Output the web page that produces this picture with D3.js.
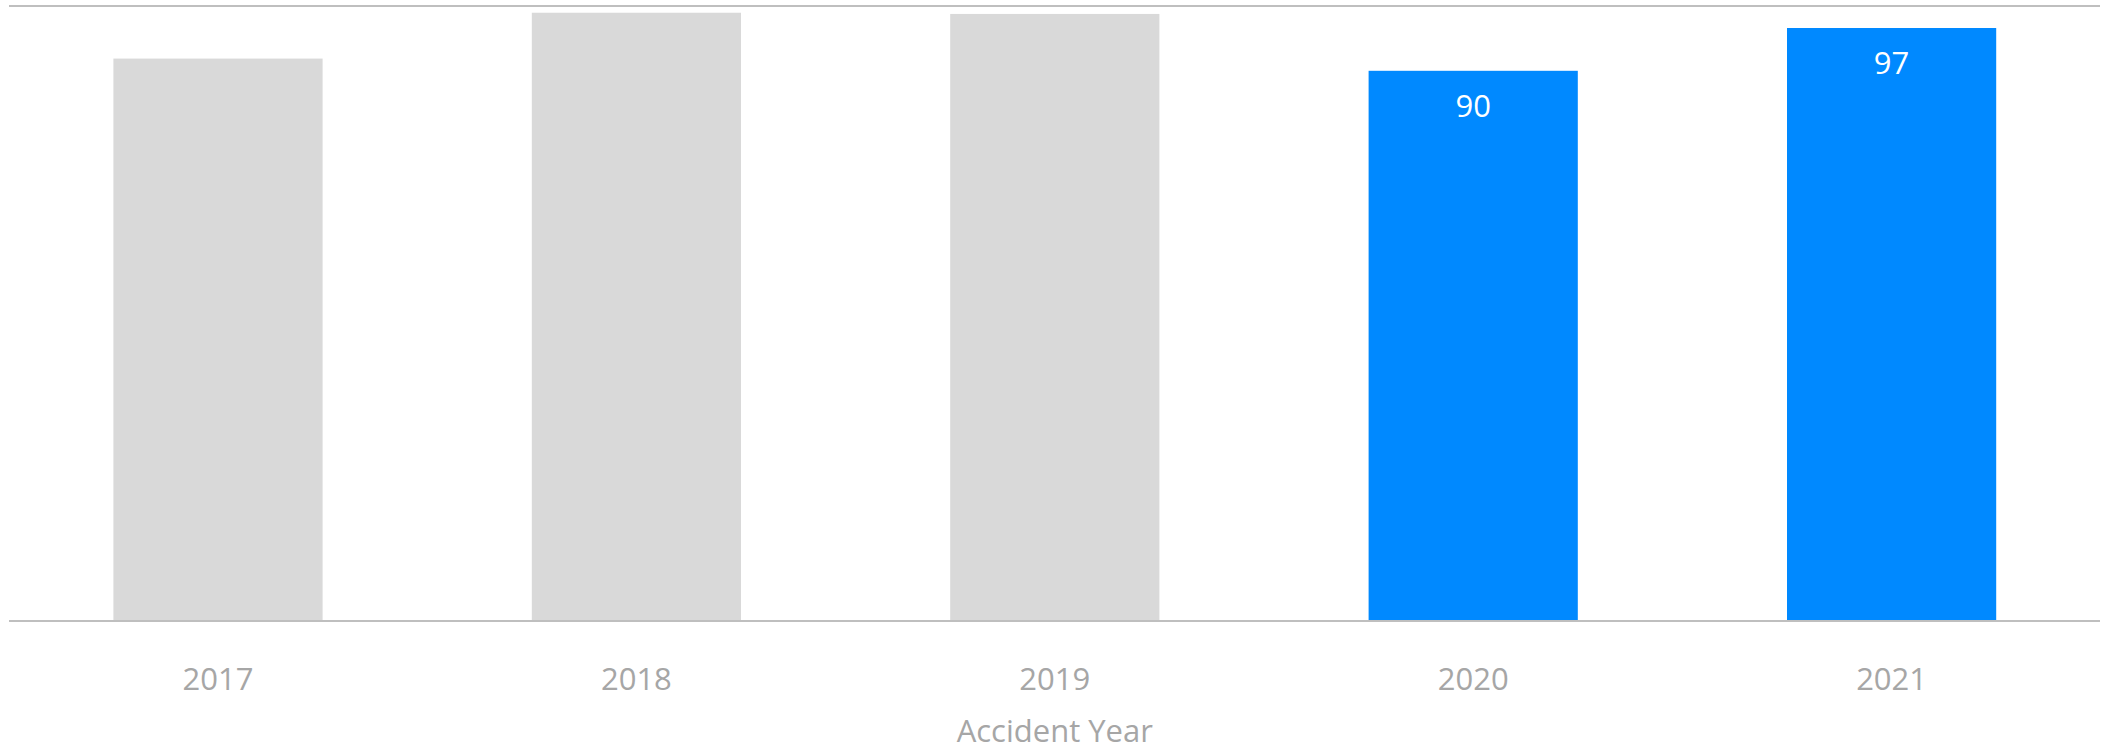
<!DOCTYPE html>
<html>
<head>
<meta charset="utf-8">
<script src="https://cdn.jsdelivr.net/npm/d3@7"></script>
<style>
  html, body { margin: 0; padding: 0; background: #ffffff; }
  svg { display: block; }
</style>
</head>
<body>
<svg id="chart" width="2102" height="751"></svg>
<script>
// ---- data ----
const categories = ["2017", "2018", "2019", "2020", "2021"];
const values = [92.0, 99.5, 99.3, 90, 97];
const highlighted = [false, false, false, true, true];
const showLabel = [false, false, false, true, true];
const yMax = 100.6;
const xTitle = "Accident Year";

// ---- layout ----
const W = 2102, H = 751;
const left = 8.8, right = 2100.8;
const baseY = 621, topY = 6;
const font = "'Open Sans', 'Noto Sans', sans-serif";

const svg = d3.select("#chart");

const x = d3.scaleBand()
  .domain(categories)
  .range([left, right])
  .paddingInner(0.5)
  .paddingOuter(0.25);

const y = d3.scaleLinear()
  .domain([0, yMax])
  .range([baseY, topY]);

// top gridline
svg.append("line")
  .attr("x1", 9).attr("x2", 2100)
  .attr("y1", y(yMax)).attr("y2", y(yMax))
  .attr("stroke", "#bfbfbf").attr("stroke-width", 2);

const data = categories.map((c, i) => ({ c, v: values[i], hi: highlighted[i], lab: showLabel[i] }));

// bars
svg.append("g").selectAll("rect")
  .data(data)
  .join("rect")
  .attr("x", d => x(d.c))
  .attr("width", x.bandwidth())
  .attr("y", d => y(d.v))
  .attr("height", d => y(0) - y(d.v))
  .attr("fill", d => d.hi ? "#0089ff" : "#d9d9d9");

// value labels
svg.append("g").selectAll("text")
  .data(data.filter(d => d.lab))
  .join("text")
  .attr("x", d => x(d.c) + x.bandwidth() / 2)
  .attr("y", d => y(d.v) + 46)
  .attr("text-anchor", "middle")
  .attr("font-family", font)
  .attr("font-size", 31)
  .attr("fill", "#ffffff")
  .text(d => d3.format(".0f")(d.v));

// x axis
const xAxis = svg.append("g")
  .attr("transform", `translate(0,${baseY})`)
  .call(d3.axisBottom(x).tickSize(0));
xAxis.select(".domain").remove();
xAxis.selectAll("text")
  .attr("y", 69)
  .attr("dy", 0)
  .attr("font-family", font)
  .attr("font-size", 31)
  .attr("fill", "#a6a6a6");

// baseline
svg.append("line")
  .attr("x1", 9).attr("x2", 2100)
  .attr("y1", baseY).attr("y2", baseY)
  .attr("stroke", "#bfbfbf").attr("stroke-width", 2);

// axis title
svg.append("text")
  .attr("x", (left + right) / 2)
  .attr("y", 742)
  .attr("text-anchor", "middle")
  .attr("font-family", font)
  .attr("font-size", 31)
  .attr("fill", "#a6a6a6")
  .text(xTitle);
</script>
</body>
</html>
